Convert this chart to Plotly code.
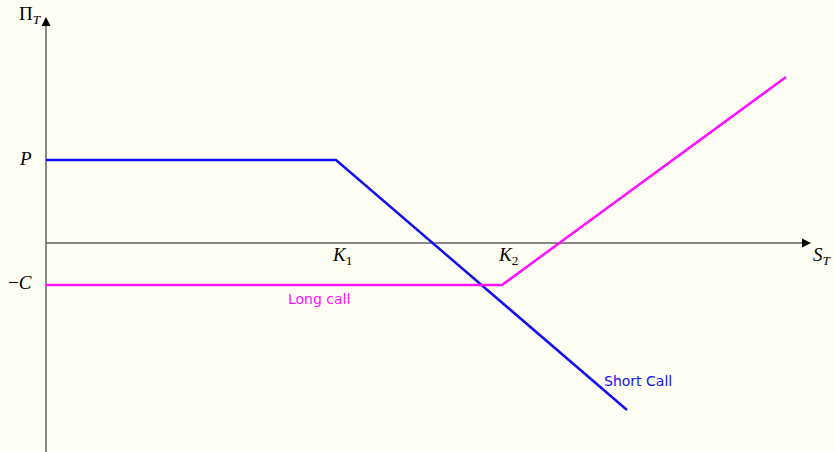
import plotly.graph_objects as go

# Payoff data (axis origin at intersection)
short_x = [0, 29.0, 58.1]
short_y = [8.3, 8.3, -16.7]
long_x = [0, 45.6, 74.0]
long_y = [-4.2, -4.2, 16.6]

K_labels = ["<i>K</i><sub>1</sub>", "<i>K</i><sub>2</sub>"]
K_pos = [29.6, 46.2]
level_labels = ["<i>P</i>", "−<i>C</i>"]
level_pos = [8.5, -3.9]

BG = "#fffff5"
AX = "#606060"
serif = "Liberation Serif, DejaVu Serif, serif"
sans = "DejaVu Sans, Lato, sans-serif"

fig = go.Figure()

fig.add_trace(go.Scatter(x=short_x, y=short_y, mode="lines",
                         line=dict(color="#1010f0", width=2.5), hoverinfo="skip"))
fig.add_trace(go.Scatter(x=long_x, y=long_y, mode="lines",
                         line=dict(color="#ff10ff", width=2.5), hoverinfo="skip"))

# axes lines
fig.add_shape(type="line", x0=0, x1=75.8, y0=0, y1=0, line=dict(color=AX, width=1.5), layer="below")
fig.add_shape(type="line", x0=0, x1=0, y0=-21, y1=22.0, line=dict(color=AX, width=1.5), layer="below")

ann = []
# arrow heads
ann.append(dict(x=76.5, y=0, ax=-10, ay=0, xref="x", yref="y", showarrow=True,
                arrowhead=2, arrowsize=1.2, arrowwidth=1.5, arrowcolor="black", text=""))
ann.append(dict(x=0, y=22.6, ax=0, ay=10, xref="x", yref="y", showarrow=True,
                arrowhead=2, arrowsize=1.2, arrowwidth=1.5, arrowcolor="black", text=""))

for lab, xp in zip(K_labels, K_pos):
    ann.append(dict(x=xp, y=-1.3, text=lab, showarrow=False, xanchor="center", yanchor="middle",
                    font=dict(family=serif, size=19, color="black")))
for lab, yp in zip(level_labels, level_pos):
    ann.append(dict(x=-1.2, y=yp, text=lab, showarrow=False, xanchor="right", yanchor="middle",
                    font=dict(family=serif, size=19, color="black")))

ann.append(dict(x=-1.6, y=22.8, text="Π<sub><i>T</i></sub>", showarrow=False, xanchor="center",
                yanchor="middle", font=dict(family=serif, size=19, color="black")))
ann.append(dict(x=77.6, y=-1.3, text="<i>S</i><sub><i>T</i></sub>", showarrow=False, xanchor="center",
                yanchor="middle", font=dict(family=serif, size=19, color="black")))
ann.append(dict(x=27.3, y=-5.6, text="Long call", showarrow=False, xanchor="center",
                yanchor="middle", font=dict(family=sans, size=14, color="#ff10ff")))
ann.append(dict(x=59.2, y=-13.8, text="Short Call", showarrow=False, xanchor="center",
                yanchor="middle", font=dict(family=sans, size=14, color="#1010f0")))

fig.update_layout(
    width=835, height=452,
    margin=dict(l=0, r=0, t=0, b=0),
    paper_bgcolor=BG, plot_bgcolor=BG,
    showlegend=False,
    annotations=ann,
    xaxis=dict(range=[-4.6, 78.9], visible=False, fixedrange=True),
    yaxis=dict(range=[-20.9, 24.3], visible=False, fixedrange=True),
)

fig.write_html(
    "out.html",
    config={"displayModeBar": False},
    post_script="document.body.style.margin='0';document.body.style.overflow='hidden';"
                "document.body.style.background='" + BG + "';",
)
